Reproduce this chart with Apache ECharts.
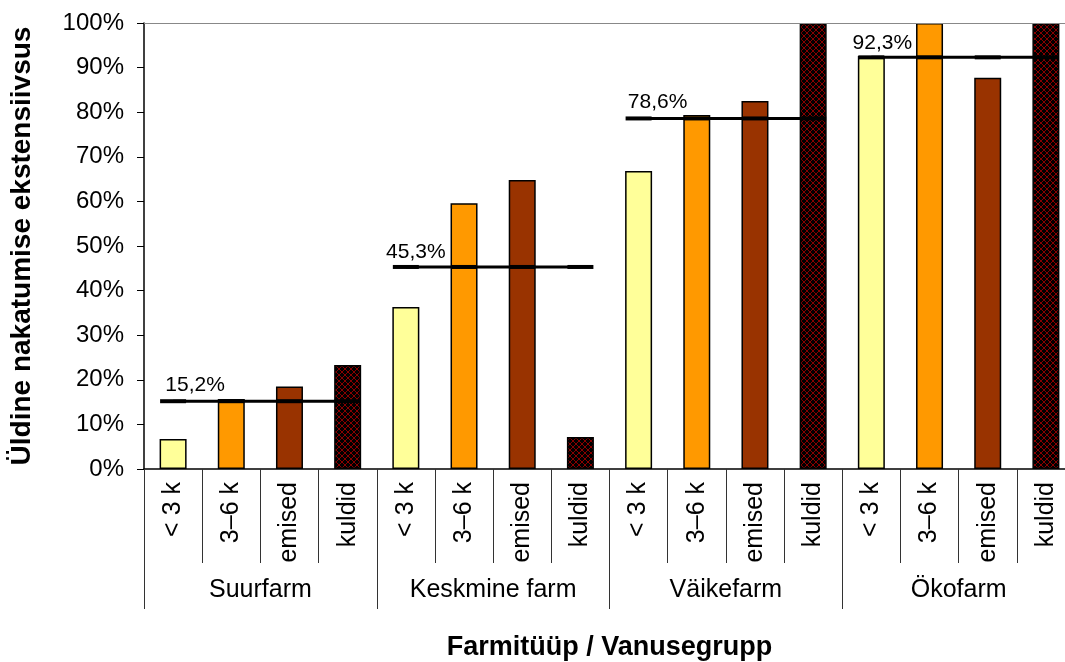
<!DOCTYPE html>
<html>
<head>
<meta charset="utf-8">
<script src="https://cdn.jsdelivr.net/npm/echarts@6/dist/echarts.min.js"></script>
<style>
  html, body { margin: 0; padding: 0; background: #fff; }
  #chart { width: 1065px; height: 662px; }
</style>
</head>
<body>
<div id="chart"></div>
<script>
// Farm types (outer category level) and age groups (inner level)
const farmTypes = ['Suurfarm', 'Keskmine farm', 'Väikefarm', 'Ökofarm'];
const ageGroups = ['< 3 k', '3–6 k', 'emised', 'kuldid'];

// Extensity of infection (%) per age group, one array per farm type
const suurfarm = [6.7, 15.7, 18.5, 23.3];
const keskmineFarm = [36.3, 59.6, 64.8, 7.2];
const vaikefarm = [66.8, 79.4, 82.5, 100];
const okofarm = [92.6, 100, 87.7, 100];

// Overall extensity per farm type (drawn as horizontal lines)
const farmAverages = [15.2, 45.3, 78.6, 92.3];

// Y axis ticks
const yMin = 0, yMax = 100, yStep = 10;

const groupValues = [suurfarm, keskmineFarm, vaikefarm, okofarm];

// Cross-hatched fill for the boars' bars
function hatch() {
  const c = document.createElement('canvas');
  c.width = 6; c.height = 6;
  const g = c.getContext('2d');
  g.fillStyle = '#000';
  g.fillRect(0, 0, 6, 6);
  g.strokeStyle = '#8a0000';
  g.lineWidth = 1;
  g.beginPath();
  g.moveTo(0, 0); g.lineTo(6, 6);
  g.moveTo(6, 0); g.lineTo(0, 6);
  g.stroke();
  return { image: c, repeat: 'repeat' };
}

const fills = ['#FFFF99', '#FF9900', '#993300', hatch()];

const innerCats = [];
const barData = [];
groupValues.forEach((vals, gi) => {
  vals.forEach((v, i) => {
    innerCats.push(ageGroups[i]);
    barData.push({ value: v, itemStyle: { color: fills[i] } });
  });
});

// Label offsets for the average-line labels
const labelOffsets = [[22, 0], [10, 2], [19, 0], [11, 2]];

const avgSeries = farmAverages.map((avg, gi) => {
  const data = innerCats.map(() => '-');
  for (let i = 0; i < ageGroups.length; i++) {
    data[gi * ageGroups.length + i] = avg;
  }
  return {
    type: 'line',
    data: data,
    z: 5,
    symbol: 'rect',
    symbolSize: [26, 4],
    itemStyle: { color: '#000' },
    lineStyle: { color: '#000', width: 3 },
    label: {
      show: true,
      position: 'top',
      distance: 4,
      offset: labelOffsets[gi],
      fontFamily: 'Liberation Sans',
      fontSize: 21,
      color: '#000',
      formatter: (p) => p.dataIndex === gi * ageGroups.length
        ? avg.toFixed(1).replace('.', ',') + '%' : ''
    },
    silent: true,
    animation: false
  };
});

const chart = echarts.init(document.getElementById('chart'), null, { renderer: 'canvas' });
chart.setOption({
  animation: false,
  backgroundColor: '#fff',
  textStyle: { fontFamily: 'Liberation Sans', color: '#000' },
  grid: { left: 144, right: -10, top: 23, bottom: 193, containLabel: false, outerBoundsMode: 'none' },
  xAxis: [
    {
      type: 'category',
      data: innerCats,
      position: 'bottom',
      axisLine: { show: true, lineStyle: { color: '#000', width: 1.5 } },
      axisTick: { show: true, length: 94, lineStyle: { color: '#333', width: 1 } },
      axisLabel: {
        rotate: 90,
        margin: 13,
        fontSize: 25,
        color: '#000',
        fontFamily: 'Liberation Sans',
        interval: 0
      },
      splitLine: { show: false }
    },
    {
      type: 'category',
      data: farmTypes,
      position: 'bottom',
      axisLine: { show: false },
      axisTick: { show: true, length: 140, lineStyle: { color: '#333', width: 1 } },
      axisLabel: {
        margin: 109,
        fontSize: 25,
        color: '#000',
        fontFamily: 'Liberation Sans',
        interval: 0
      },
      name: 'Farmitüüp / Vanusegrupp',
      nameLocation: 'middle',
      nameGap: 165,
      nameTextStyle: { fontSize: 27, fontWeight: 'bold', color: '#000', fontFamily: 'Liberation Sans' }
    }
  ],
  yAxis: {
    type: 'value',
    min: yMin,
    max: yMax,
    interval: yStep,
    axisLine: { show: true, lineStyle: { color: '#000', width: 1.5 } },
    axisTick: { show: true, length: 7, lineStyle: { color: '#000' } },
    axisLabel: {
      margin: 20,
      fontSize: 24,
      color: '#000',
      fontFamily: 'Liberation Sans',
      formatter: '{value}%'
    },
    splitLine: { show: false },
    name: 'Üldine nakatumise ekstensiivsus',
    nameLocation: 'middle',
    nameGap: 108,
    nameRotate: 90,
    nameTextStyle: { fontSize: 28, fontWeight: 'bold', color: '#000', fontFamily: 'Liberation Sans' }
  },
  series: [
    {
      type: 'bar',
      data: barData,
      barWidth: 27,
      itemStyle: { borderColor: '#000', borderWidth: 1.5 },
      markLine: {
        silent: true,
        symbol: 'none',
        label: { show: false },
        lineStyle: { color: '#888', width: 1, type: 'solid' },
        data: [{ yAxis: yMax }]
      },
      animation: false
    },
    ...avgSeries
  ]
});
</script>
</body>
</html>
